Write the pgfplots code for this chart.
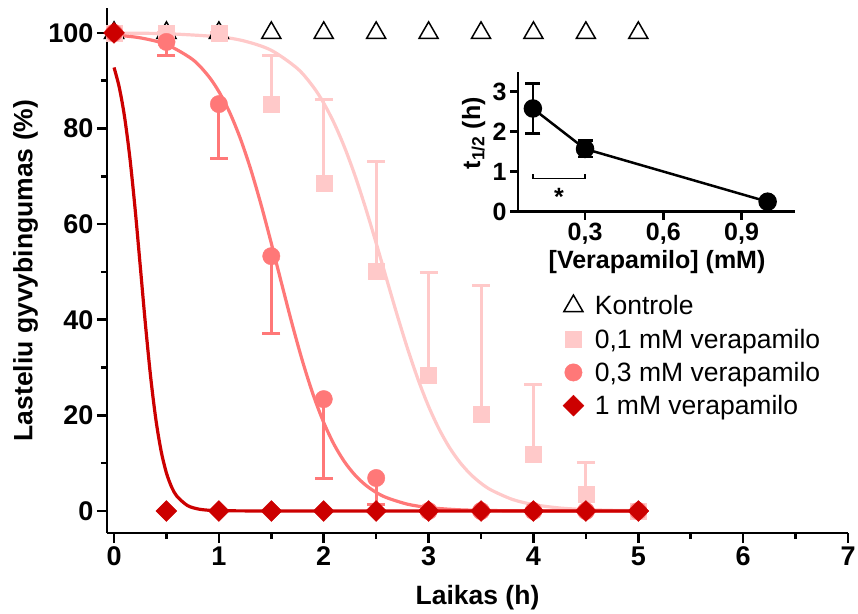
\documentclass[border=0pt]{standalone}
\usepackage{fontspec}
\setmainfont{Liberation Sans}
\usepackage{pgfplots}
\pgfplotsset{compat=1.18}
\definecolor{lpink}{HTML}{FFC9C9}
\definecolor{salmon}{HTML}{FF7878}
\definecolor{dred}{HTML}{CC0000}
\begin{document}
\begin{tikzpicture}
\path[use as bounding box] (0,0) rectangle (858pt,613pt);
\begin{axis}[
  at={(107pt,80pt)}, anchor=south west,
  scale only axis, width=741pt, height=525pt,
  xmin=-0.067, xmax=7, ymin=-4.6, ymax=105.2,
  axis lines*=left,
  axis line style={line width=2.5pt},
  tick align=outside,
  xtick={0,...,7}, ytick={0,20,...,100},
  minor xtick={0.5,1.5,...,6.5}, minor ytick={10,30,...,90},
  major tick length=10pt, minor tick length=6pt,
  every tick/.style={line width=2.5pt, black},
  tick label style={font=\fontsize{27}{30}\selectfont\bfseries},
  /pgf/number format/assume math mode=true,
  xlabel={Laikas (h)}, ylabel={Lasteliu gyvybingumas (\%)},
  label style={font=\fontsize{26.5}{30}\selectfont\bfseries},
  xlabel style={at={(axis description cs:0.5,-0.124)}, anchor=center},
  ylabel style={at={(axis description cs:-0.11,0.5)}, anchor=center},
  clip=false,
  legend style={draw=none, fill=none, at={(axis description cs:0.611,0.46)}, anchor=north west,
    font=\fontsize{26.5}{30}\selectfont, row sep=8.5pt,
    /tikz/every odd column/.append style={column sep=9pt}},
  legend cell align=left,
]
% fitted curves
\addplot[forget plot, lpink, line width=3.2pt, smooth] coordinates {
(0,99.96) (0.5,99.82) (1.0,99.17) (1.25,98.25) (1.5,96.35) (1.75,92.52) (1.9,88.71) (2.0,85.30) (2.1,81.07) (2.2,75.98) (2.3,70.03) (2.4,63.31) (2.5,56.03) (2.6,48.48) (2.7,41.00) (2.8,33.92) (2.9,27.49) (3.0,21.88) (3.1,17.14) (3.2,13.25) (3.3,10.14) (3.4,7.69) (3.5,5.80) (3.6,4.35) (3.8,2.42) (4.0,1.34) (4.25,0.63) (4.5,0.30) (4.75,0.14) (5.0,0.07)};
\addplot[forget plot, salmon, line width=3.2pt, smooth] coordinates {
(0,99.56) (0.25,98.96) (0.5,97.56) (0.75,94.42) (0.9,90.97) (1.0,87.71) (1.1,83.50) (1.2,78.18) (1.3,71.73) (1.4,64.25) (1.5,56.00) (1.6,47.42) (1.7,38.98) (1.8,31.15) (1.9,24.27) (2.0,18.50) (2.1,13.85) (2.2,10.23) (2.3,7.47) (2.4,5.41) (2.5,3.89) (2.6,2.79) (2.8,1.42) (3.0,0.72) (3.25,0.30) (3.5,0.13) (4.0,0.02) (4.5,0) (5.0,0)};
\addplot[forget plot, dred, line width=3.2pt, smooth] coordinates {
(0,92.76) (0.05,88.60) (0.1,82.50) (0.15,74.08) (0.2,63.42) (0.25,51.25) (0.3,38.94) (0.35,27.89) (0.4,19.00) (0.45,12.45) (0.5,7.94) (0.55,4.97) (0.6,3.08) (0.7,1.15) (0.8,0.43) (0.9,0.16) (1.0,0.06) (1.5,0) (2,0) (3,0) (4,0) (5,0)};
% Kontrole
\addplot[only marks, mark=triangle, mark size=11pt, mark options={line width=1.5pt, black}] coordinates {
(0,100) (0.5,100) (1,100) (1.5,100) (2,100) (2.5,100) (3,100) (3.5,100) (4,100) (4.5,100) (5,100)};
\addlegendentry{Kontrole}
% 0.1 mM
\addplot[only marks, mark=square*, mark size=8pt, color=lpink,
  error bars/.cd, y dir=plus, y explicit,
  error bar style={line width=3pt, lpink},
  error mark options={rotate=90, mark size=9pt, line width=3pt, lpink}]
  table[x=x, y=y, y error=e] {
x y e
0 100 0
0.5 100 0
1 100 0
1.5 85.1 10.1
2 68.5 17.5
2.5 50.2 22.8
3 28.5 21.3
3.5 20.2 27.0
4 11.9 14.6
4.5 3.6 6.5
5 0 0
};
\addlegendentry{0,1 mM verapamilo}
% 0.3 mM
\addplot[only marks, mark=*, mark size=8.7pt, color=salmon,
  error bars/.cd, y dir=minus, y explicit,
  error bar style={line width=3pt, salmon},
  error mark options={rotate=90, mark size=9pt, line width=3pt, salmon}]
  table[x=x, y=y, y error=e] {
x y e
0 100 0
0.5 98.1 2.9
1 85.1 11.3
1.5 53.3 16.1
2 23.4 16.7
2.5 6.9 5.6
3 0 0
3.5 0 0
4 0 0
4.5 0 0
5 0 0
};
\addlegendentry{0,3 mM verapamilo}
% 1 mM
\addplot[only marks, mark=square*, mark size=7.4pt, color=dred, mark options={rotate=45}] coordinates {
(0,100) (0.5,0) (1,0) (1.5,0) (2,0) (2.5,0) (3,0) (3.5,0) (4,0) (4.5,0) (5,0)};
\addlegendentry{1 mM verapamilo}
\end{axis}
% inset
\begin{axis}[
  at={(518pt,401.3pt)}, anchor=south west,
  scale only axis, width=277pt, height=140pt,
  xmin=0.043, xmax=1.105, ymin=0, ymax=3.5,
  axis lines*=left,
  axis line style={line width=2.5pt},
  tick align=outside,
  xtick={0.3,0.6,0.9}, xticklabels={{0,3},{0,6},{0,9}},
  ytick={0,1,2,3},
  major tick length=8pt,
  every tick/.style={line width=2.5pt, black},
  tick label style={font=\fontsize{25}{28}\selectfont\bfseries},
  /pgf/number format/assume math mode=true,
  xlabel={{[Verapamilo] (mM)}}, ylabel={t\textsubscript{1/2} (h)},
  label style={font=\fontsize{25}{28}\selectfont\bfseries},
  xlabel style={at={(axis description cs:0.502,-0.36)}, anchor=center},
  ylabel style={at={(axis description cs:-0.16,0.56)}, anchor=center},
  clip=false,
]
\addplot[black, line width=2.5pt, mark=*, mark size=8pt,
  error bars/.cd, y dir=both, y explicit,
  error bar style={line width=2.5pt, black},
  error mark options={rotate=90, mark size=7.5pt, line width=2.5pt, black}]
  table[x=x, y=y, y error=e] {
x y e
0.1 2.58 0.62
0.3 1.57 0.205
1.0 0.25 0
};
\draw[line width=1.8pt] (axis cs:0.1,0.93) -- (axis cs:0.1,0.83) -- (axis cs:0.3,0.83) -- (axis cs:0.3,0.93);
\node[font=\fontsize{25}{28}\selectfont\bfseries] at (axis cs:0.2,0.38) {*};
\end{axis}
\end{tikzpicture}
\end{document}
